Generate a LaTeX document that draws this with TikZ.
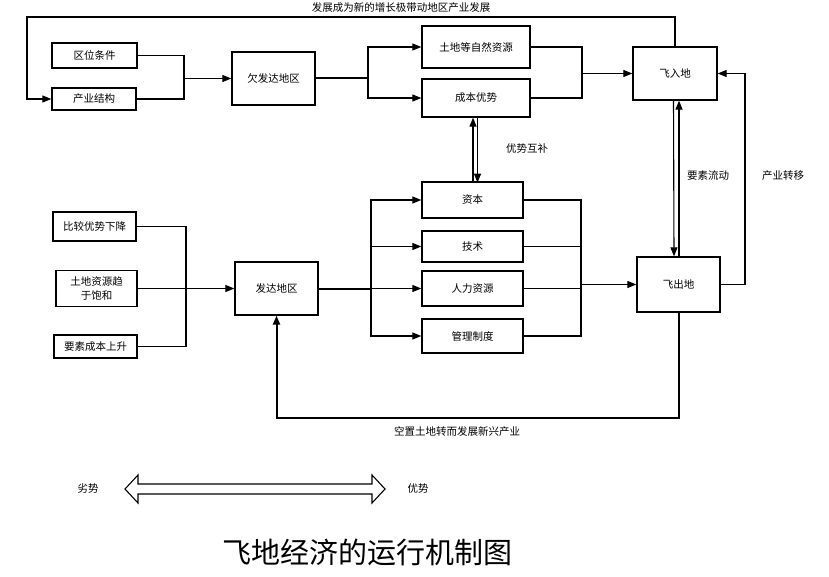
\documentclass[tikz,border=0pt]{standalone}
\usepackage{fontspec}
\setmainfont{Noto Sans CJK SC}
\usetikzlibrary{arrows.meta,calc}
\tikzset{
	box/.style={draw, line width=1.3pt, inner sep=1pt, align=center, font=\fontsize{10.5}{13.5}\selectfont},
	lbl/.style={inner sep=0pt, font=\fontsize{10.5}{12}\selectfont},
	link/.style={line width=1.1pt},
	heavy/.style={line width=2pt},
	flow/.style={line width=1.1pt, -{Triangle[length=9pt,width=7pt]}},
	heavyflow/.style={line width=2pt, -{Triangle[length=9pt,width=7pt]}}
}

\begin{document}
\begin{tikzpicture}[x=1pt,y=-1pt]
		%%%%% START %%%%%
		\useasboundingbox[fill=white] (0,0) rectangle (829,577);
		
		% upper row
		\node[box, minimum width=85, minimum height=25] (qw) at (94.5,55.5) {区位条件};
		\node[box, minimum width=84, minimum height=22] (cy) at (94,99) {产业结构};
		\node[box, minimum width=83, minimum height=53] (qfd) at (273.5,78.5) {欠发达地区};
		\node[box, minimum width=108, minimum height=42] (td) at (476,47) {土地等自然资源};
		\node[box, minimum width=108, minimum height=38] (cb) at (476,98) {成本优势};
		\node[box, minimum width=84, minimum height=53] (fr) at (675,73.5) {飞入地};
		
		% lower row
		\node[box, minimum width=83, minimum height=29] (bj) at (94.5,226.5) {比较优势下降};
		\node[box, minimum width=81, minimum height=36] (tz) at (96.5,288.5) {土地资源趋\\于饱和};
		\node[box, minimum width=83, minimum height=23] (ys) at (95.5,346.5) {要素成本上升};
		\node[box, minimum width=83, minimum height=53] (fd) at (276.5,288.5) {发达地区};
		\node[box, minimum width=101, minimum height=36] (zb) at (472.5,200) {资本};
		\node[box, minimum width=101, minimum height=31] (js) at (472.5,246.5) {技术};
		\node[box, minimum width=101, minimum height=35] (rl) at (472.5,288.5) {人力资源};
		\node[box, minimum width=101, minimum height=34] (gl) at (472.5,336) {管理制度};
		\node[box, minimum width=83, minimum height=55] (fc) at (678.5,284.5) {飞出地};
		
		\coordinate (j1) at (184,78.5);
		\coordinate (j2) at (368,78.5);
		\coordinate (j3) at (582,73.5);
		\coordinate (j4) at (186,288.5);
		\coordinate (j5) at (371,288.5);
		\coordinate (j6) at (581,284.5);
		\coordinate (tl) at (27,17);
		\coordinate (rt) at (745,180);
		\coordinate (bt) at (477,418);
		
		% upper flows
		\draw[link] (qw.east) -| (j1);
		\draw[link] (cy.east) -| (j1);
		\draw[flow] (j1) -- (qfd.west);
		\draw[heavy] (qfd.east) -- (j2);
		\draw[flow] (j2) |- (td.west);
		\draw[flow] (j2) |- (cb.west);
		\draw[link] (td.east) -| (j3);
		\draw[link] (cb.east) -| (j3);
		\draw[flow] (j3) -- (fr.west);
		\draw[flow] (fr.north) |- (tl) |- (cy.west);
		
		% lower flows
		\draw[link] (bj.east) -| (j4);
		\draw[link] (tz.east) -- (j4);
		\draw[link] (ys.east) -| (j4);
		\draw[flow] (j4) -- (fd.west);
		\draw[heavy] (fd.east) -- (j5);
		\draw[flow] (j5) |- (zb.west);
		\draw[flow] (j5) |- (js.west);
		\draw[flow] (j5) -- (rl.west);
		\draw[flow] (j5) |- (gl.west);
		\draw[heavy] (zb.east) -| (j6);
		\draw[link] (js.east) -- (js.east -| j6);
		\draw[link] (rl.east) -- (rl.east -| j6);
		\draw[heavy] (gl.east) -| (j6);
		\draw[flow] (j6) -- (fc.west);
		\draw[flow] (fc.east) -| (rt) |- (fr.east);
		\draw[heavyflow] (fc.south) |- (bt) -| (fd.south);
		
		% two-way links
		\draw[flow] ($(cb.south)+(-3,0)$) ++(0,65) -- ($(cb.south)+(-3,0)$);
		\draw[flow] ($(cb.south)+(1.5,0)$) -- ++(0,65);
		\draw[flow] ($(fr.south)+(-1.5,0)$) -- ($(fc.north)+(-4.5,0)$);
		\draw[flow] ($(fc.north)+(0.5,0)$) -- ($(fr.south)+(4,0)$);
		
		% labels
		\node[lbl] (lfz) at (401,8) {发展成为新的增长极带动地区产业发展};
		\node[lbl] (lyh) at (527,149) {优势互补};
		\node[lbl] (lys) at (708,176) {要素流动};
		\node[lbl] (lcz) at (783,176) {产业转移};
		\node[lbl] (lkz) at (457,432) {空置土地转而发展新兴产业};
		
		% scale of advantage
		\node[lbl] (lie) at (88,489) {劣势};
		\node[lbl] (you) at (418,489) {优势};
		\coordinate (la) at (125,489);
		\coordinate (ra) at (385,489);
		\draw[line width=1.1pt, line join=miter] (la) -- ++(13,-14) -- ++(0,9) -- ($(ra)+(-13,-5)$) -- ++(0,-9) -- (ra)
			-- ++(-13,14) -- ++(0,-9) -- ($(la)+(13,5)$) -- ++(0,9) -- cycle;
		
		\node[inner sep=0pt, font=\fontsize{29}{32}\selectfont] (title) at (367,552) {飞地经济的运行机制图};
		%%%%% END %%%%%
\end{tikzpicture}
\end{document}
